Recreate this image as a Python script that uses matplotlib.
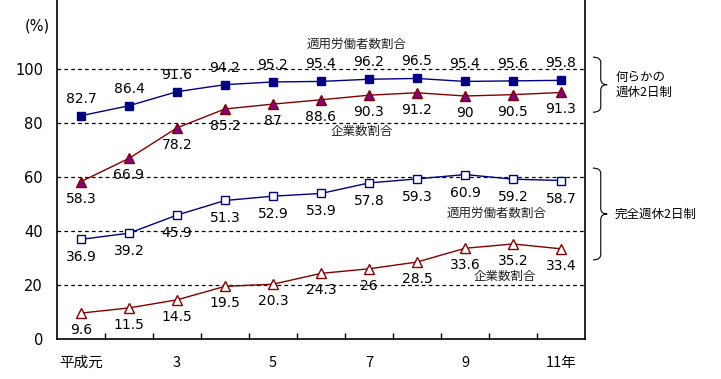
import matplotlib
matplotlib.use("Agg")
import matplotlib.pyplot as plt
from matplotlib.path import Path
from matplotlib.patches import PathPatch

plt.rcParams["font.family"] = ["DejaVu Sans", "Noto Sans CJK JP"]
JP = ["Noto Sans CJK JP", "DejaVu Sans"]

# ── data ────────────────────────────────────────────────────────────────
years = ["平成元", "2", "3", "4", "5", "6", "7", "8", "9", "10", "11年"]
# 何らかの週休2日制
nanraka_rodosha = [82.7, 86.4, 91.6, 94.2, 95.2, 95.4, 96.2, 96.5, 95.4, 95.6, 95.8]
nanraka_kigyo = [58.3, 66.9, 78.2, 85.2, 87, 88.6, 90.3, 91.2, 90, 90.5, 91.3]
# 完全週休2日制
kanzen_rodosha = [36.9, 39.2, 45.9, 51.3, 52.9, 53.9, 57.8, 59.3, 60.9, 59.2, 58.7]
kanzen_kigyo = [9.6, 11.5, 14.5, 19.5, 20.3, 24.3, 26, 28.5, 33.6, 35.2, 33.4]

NAVY = "#000080"
MAROON = "#800000"
PURPLE = "#800080"

W, H = 721, 379
fig = plt.figure(figsize=(W / 100, H / 100), dpi=100)
ax = fig.add_axes([57 / W, 40 / H, 528 / W, 1 - 40 / H])

x = [i + 0.5 for i in range(len(years))]

series = [
    (nanraka_rodosha, dict(color=NAVY, marker="s", mfc=NAVY, mec=NAVY, ms=5.5), 17),
    (nanraka_kigyo, dict(color=MAROON, marker="^", mfc=PURPLE, mec=MAROON, ms=6.5), -17),
    (kanzen_rodosha, dict(color=NAVY, marker="s", mfc="white", mec=NAVY, ms=5.5), -18),
    (kanzen_kigyo, dict(color=MAROON, marker="^", mfc="white", mec=MAROON, ms=6.5), -17),
]
for vals, style, off in series:
    ax.plot(x, vals, lw=1, mew=1, zorder=3, **style)
    for xi, v in zip(x, vals):
        ax.annotate(f"{v:g}", (xi, v), xytext=(0, off), textcoords="offset pixels",
                    ha="center", va="center", fontsize=10)

ax.set_xlim(0, len(years))
ax.set_ylim(0, 339 / 2.7)
for yv in range(20, 101, 20):
    ax.axhline(yv, color="black", lw=0.9, ls=(0, (3, 2.5)), zorder=1)

ax.set_yticks(range(0, 101, 20))
ax.tick_params(axis="y", length=0, pad=10, labelsize=10.5)
ax.set_xticks(range(1, len(years)))
ax.set_xticklabels([])
ax.tick_params(axis="x", which="major", direction="in", length=4, width=1)
ax.set_xticks(x[::2], minor=True)
ax.set_xticklabels(years[::2], minor=True, fontsize=10.5, family=JP)
ax.tick_params(axis="x", which="minor", length=0, pad=12)
ax.spines["top"].set_visible(False)
for s in ("left", "bottom", "right"):
    ax.spines[s].set_linewidth(1.2)

ax.text(-0.42, 116, "(%)", ha="center", va="center", fontsize=10.5)

# series labels
lab = dict(ha="center", va="center", fontsize=9, family=JP, color="#222222")
ax.text(6.25, 109, "適用労働者数割合", **lab)
ax.text(6.35, 77, "企業数割合", **lab)
ax.text(9.15, 46.5, "適用労働者数割合", **lab)
ax.text(9.33, 23, "企業数割合", **lab)


def brace(y_top, y_bot, x0=1.015, w=0.027):
    """right-facing curly brace; x in axes fraction, y in data."""
    ym = (y_top + y_bot) / 2
    xm = x0 + w * 0.55
    r = 2.0
    verts = [
        (x0, y_top), (xm, y_top), (xm, y_top - r),
        (xm, ym + r), (xm, ym), (x0 + w, ym),
        (xm, ym), (xm, ym - r),
        (xm, y_bot + r), (xm, y_bot), (x0, y_bot),
    ]
    codes = [Path.MOVETO, Path.CURVE3, Path.CURVE3,
             Path.LINETO, Path.CURVE3, Path.CURVE3,
             Path.CURVE3, Path.CURVE3,
             Path.LINETO, Path.CURVE3, Path.CURVE3]
    ax.add_patch(PathPatch(Path(verts, codes), fill=False, lw=0.8, ec="black",
                           transform=ax.get_yaxis_transform(), clip_on=False))


brace(104.4, 84)
brace(63.3, 29.3)
ax.text(1.057, 94, "何らかの\n週休2日制", transform=ax.get_yaxis_transform(),
        ha="left", va="center", fontsize=9, family=JP, linespacing=1.2)
ax.text(1.057, 46.3, "完全週休2日制", transform=ax.get_yaxis_transform(),
        ha="left", va="center", fontsize=9, family=JP)

fig.savefig("out.png", dpi=100)
